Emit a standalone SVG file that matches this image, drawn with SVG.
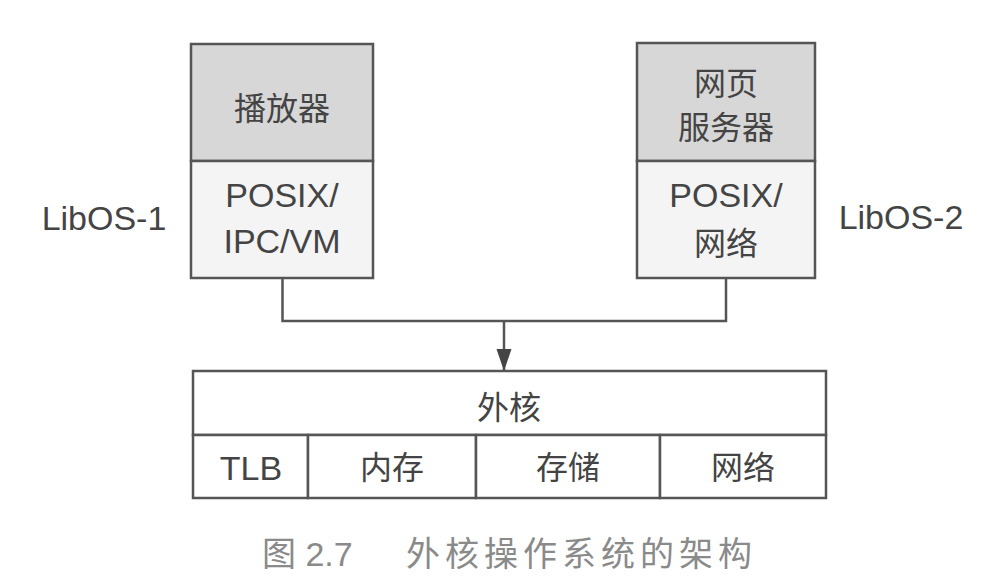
<svg xmlns="http://www.w3.org/2000/svg" width="1005" height="580" viewBox="0 0 1005 580">
<style>
.t{font-family:"Liberation Sans","Noto Sans CJK SC",sans-serif;fill:#444;text-anchor:middle}
.lat{font-size:34px}
.cjk{font-size:32px}
.box{stroke:#555;stroke-width:2.5}
.app{fill:#d7d7d7}
.lib{fill:#f4f4f4}
.plain{fill:#fff}
.conn{fill:none;stroke:#555;stroke-width:2.5}
.cap{font-family:"Liberation Sans","Noto Sans CJK SC",sans-serif;fill:#8a8a8a;font-size:34px}
</style>
<defs>
<marker id="arr" markerWidth="22" markerHeight="16" refX="21" refY="7.5" orient="auto" markerUnits="userSpaceOnUse">
<path d="M0,0 L22,7.5 L0,15 Z" fill="#444"/>
</marker>
</defs>
<rect width="1005" height="580" fill="#fff"/>
<g id="libos1">
<rect class="box app" x="191" y="44" width="182" height="117"/>
<rect class="box lib" x="191" y="161" width="182" height="117"/>
<text class="t cjk" x="282" y="120">播放器</text>
<text class="t lat" x="282" y="207">POSIX/</text>
<text class="t lat" x="282" y="253">IPC/VM</text>
</g>
<g id="libos2">
<rect class="box app" x="637" y="43" width="178" height="118"/>
<rect class="box lib" x="637" y="161" width="178" height="117"/>
<text class="t cjk" x="726" y="95">网页</text>
<text class="t cjk" x="726" y="139">服务器</text>
<text class="t lat" x="726" y="207">POSIX/</text>
<text class="t cjk" x="726" y="255">网络</text>
</g>
<g id="label1"><text class="t lat" x="104" y="230">LibOS-1</text></g>
<g id="label2"><text class="t lat" x="901" y="229">LibOS-2</text></g>
<g id="exokernel">
<rect class="box plain" x="193" y="371" width="633" height="64"/>
<text class="t cjk" x="509" y="419">外核</text>
</g>
<g id="tlb">
<rect class="box plain" x="193" y="435" width="115" height="63"/>
<text class="t lat" x="251" y="480">TLB</text>
</g>
<g id="mem">
<rect class="box plain" x="308" y="435" width="168" height="63"/>
<text class="t cjk" x="392" y="479">内存</text>
</g>
<g id="storage">
<rect class="box plain" x="476" y="435" width="184" height="63"/>
<text class="t cjk" x="568" y="479">存储</text>
</g>
<g id="net">
<rect class="box plain" x="660" y="435" width="166" height="63"/>
<text class="t cjk" x="743" y="479">网络</text>
</g>
<g id="connectors">
<path class="conn" d="M282.5,279 V321 H726 V279"/>
<path class="conn" d="M504,321 V370" marker-end="url(#arr)"/>
</g>
<g id="caption">
<text class="cap" x="262" y="566">图 2.7</text>
<text class="cap" x="406" y="566" letter-spacing="5">外核操作系统的架构</text>
</g>
</svg>
